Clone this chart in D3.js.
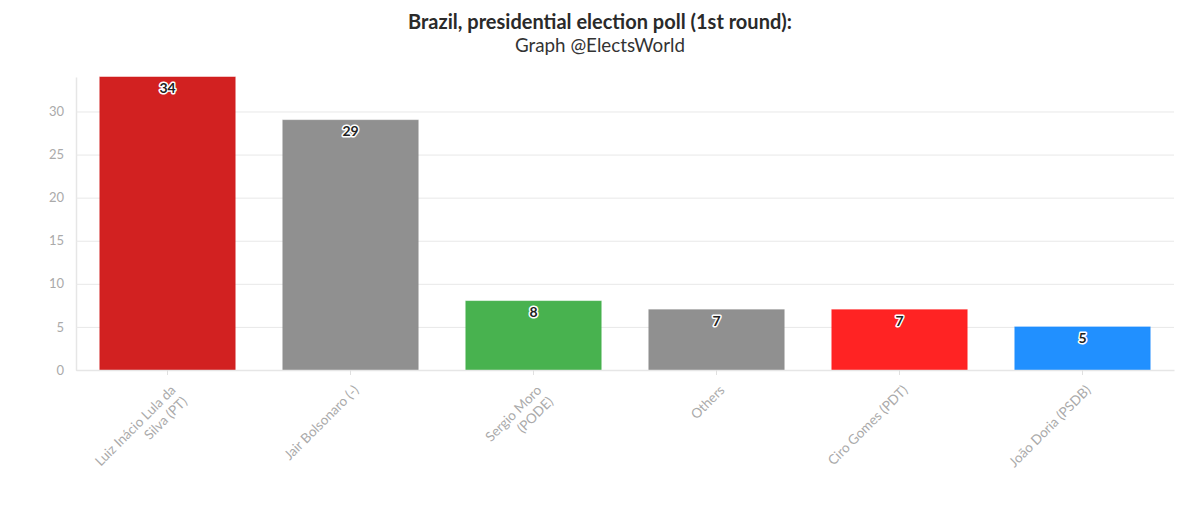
<!DOCTYPE html>
<html><head><meta charset="utf-8">
<script src="https://cdn.jsdelivr.net/npm/d3@7"></script>
<style>body{margin:0;background:#fff;} svg{display:block;font-family:Lato,"Open Sans",sans-serif;}</style>
</head><body><svg id="c" width="1200" height="508"></svg>
<script>
const categories = [["Luiz Inácio Lula da","Silva (PT)"],["Jair Bolsonaro (-)"],["Sergio Moro","(PODE)"],["Others"],["Ciro Gomes (PDT)"],["João Doria (PSDB)"]];
const values = [34, 29, 8, 7, 7, 5];
const colors = ["#d11a1a","#8c8c8c","#42b049","#8c8c8c","#ff1c1c","#1a8cff"];
const yTicks = [0,5,10,15,20,25,30];
const titleText = "Brazil, presidential election poll (1st round):";
const subtitleText = "Graph @ElectsWorld";

const svg = d3.select("#c");
const L = 76, R = 1174, T = 77, B = 370;
const ids = categories.map((d,i)=>i);
const x = d3.scaleBand().domain(ids).range([L,R]).paddingInner(0.26).paddingOuter(0.13);
const y = d3.scaleLinear().domain([0,34]).range([B,T]);

svg.append("text").attr("x",600).attr("y",29).attr("text-anchor","middle")
  .attr("font-size",20).attr("font-weight","bold").attr("fill","#2a2a2a").text(titleText);
svg.append("text").attr("x",600).attr("y",52).attr("text-anchor","middle")
  .attr("font-size",18.8).attr("fill","#333").text(subtitleText);

// grid
const yAxis = d3.axisLeft(y).tickValues(yTicks).tickSize(-(R-L)).tickSizeOuter(0).tickPadding(12);
const gy = svg.append("g").attr("transform",`translate(${L},0)`).call(yAxis);
gy.select(".domain").attr("stroke","#e6e6e6").attr("stroke-width",1.5);
gy.selectAll(".tick line").attr("stroke","#e8e8e8");
gy.selectAll(".tick text").attr("fill","#aaa").attr("font-size",13).attr("font-family","Lato");

// bars
svg.append("g").selectAll("rect").data(ids).join("rect")
  .attr("x",i=>x(i)).attr("width",x.bandwidth())
  .attr("y",i=>y(values[i])).attr("height",i=>B-y(values[i]))
  .attr("fill",i=>colors[i]).attr("fill-opacity",0.97)
  .attr("stroke",i=>colors[i]).attr("stroke-opacity",0.5).attr("stroke-width",1);

// x axis
const gx = svg.append("g").attr("transform",`translate(0,${B})`)
  .call(d3.axisBottom(x).tickSize(5).tickSizeOuter(0).tickFormat(""));
gx.select(".domain").attr("stroke","#e6e6e6").attr("stroke-width",1.5);
gx.selectAll(".tick line").attr("stroke","#e0e0e0");

const lab = svg.append("g").selectAll("text").data(ids).join("text")
  .attr("transform",i=>`translate(${x(i)+x.bandwidth()/2+9},${B+21}) rotate(-45)`)
  .attr("text-anchor","end").attr("font-size",13.5).attr("fill","#aaa");
lab.each(function(i){
  const t = d3.select(this);
  categories[i].forEach((line,k)=>{
    t.append("tspan").attr("x",0).attr("dy",k===0?0:"1.2em").text(line);
  });
});

// value labels
svg.append("g").selectAll("text").data(ids).join("text")
  .attr("x",i=>x(i)+x.bandwidth()/2).attr("y",i=>y(values[i])+16)
  .attr("text-anchor","middle").attr("font-size",14).attr("font-weight","bold")
  .attr("fill","#222").attr("stroke","#fff").attr("stroke-width",3).attr("stroke-linejoin","round")
  .attr("paint-order","stroke").text(i=>values[i]);
</script></body></html>
